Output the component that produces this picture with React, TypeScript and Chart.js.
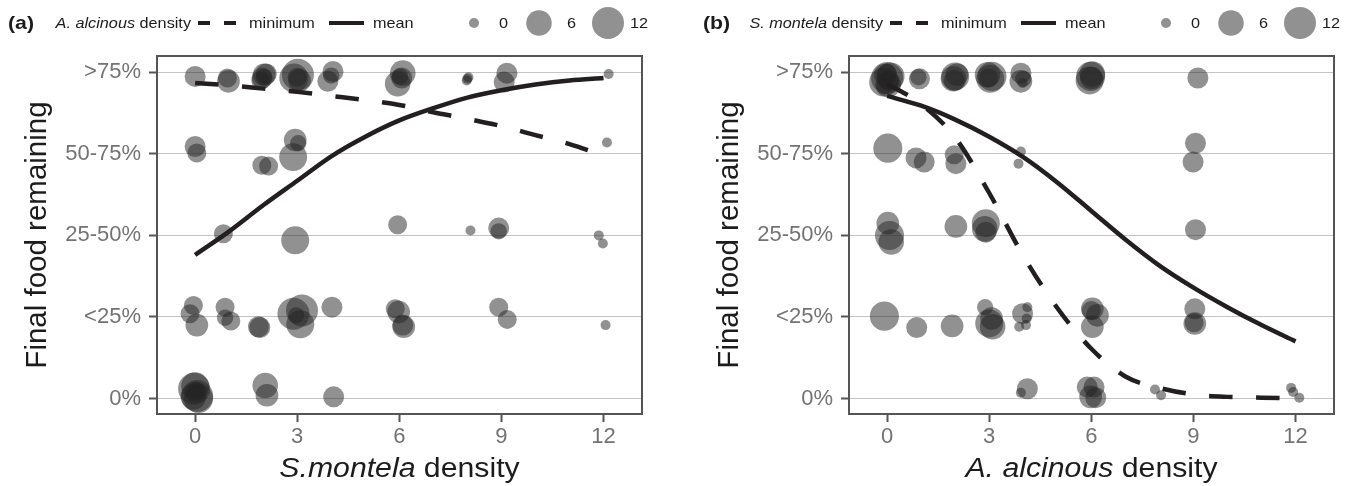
import React, { useEffect, useRef } from 'react';
import { Chart, registerables } from 'chart.js';

Chart.register(...registerables);

// ---------- data ----------
const densityTicks = [0, 3, 6, 9, 12];
const foodLabels = ['0%', '<25%', '25-50%', '50-75%', '>75%'];
const legendSizes = [0, 6, 12];

const curveX = [0, 1, 2, 3, 4, 5, 6, 7, 8, 9, 10, 11, 12];
const aMeanY = [1.76, 2.05, 2.37, 2.67, 2.97, 3.21, 3.41, 3.56, 3.69, 3.78, 3.85, 3.9, 3.93];
const aMinY = [3.87, 3.84, 3.8, 3.76, 3.71, 3.66, 3.6, 3.51, 3.43, 3.34, 3.23, 3.12, 2.98];
const bMeanY = [3.71, 3.59, 3.42, 3.21, 2.96, 2.65, 2.3, 1.95, 1.63, 1.36, 1.12, 0.9, 0.7];
const bMinY = [3.86, 3.61, 3.2, 2.52, 1.75, 1.11, 0.61, 0.27, 0.13, 0.05, 0.02, 0.01, 0.0];

const aPointX = [
  0.0, 0.98, 0.95, 2.03, 1.97, 2.09, 1.93, 2.02, 3.02, 2.9, 3.07, 3.0, 4.05, 3.9, 4.0, 6.1, 5.95, 6.07, 6.02, 7.98, 8.03, 8.0, 9.16, 9.08, 12.15,
  0.0, 0.05, 1.96, 2.16, 2.94, 3.03, 2.88, 12.1,
  0.83, 2.94, 5.95, 8.09, 8.92, 8.92, 11.86, 11.98,
  -0.05, -0.15, 0.05, 0.88, 0.88, 1.05, 1.86, 1.9, 2.89, 3.14, 3.09, 2.97, 4.02, 5.88, 5.98, 6.13, 6.1, 8.92, 9.17, 12.06,
  -0.03, 0.06, 0.0, 0.1, -0.05, 0.02, 0.04, 2.06, 2.11, 4.07,
];
const aPointY = [
  3.95, 3.89, 3.93, 3.97, 3.93, 3.98, 3.9, 3.94, 3.97, 3.93, 3.9, 3.94, 4.01, 3.89, 3.96, 3.99, 3.86, 3.93, 3.95, 3.9, 3.94, 3.92, 3.99, 3.88, 3.98,
  3.09, 3.01, 2.86, 2.85, 3.17, 3.13, 2.96, 3.14,
  2.02, 1.94, 2.13, 2.06, 2.09, 2.05, 2.0, 1.9,
  1.14, 1.04, 0.9, 1.12, 0.99, 0.95, 0.88, 0.87, 1.04, 1.08, 0.91, 1.02, 1.12, 1.1, 1.06, 0.88, 0.9, 1.12, 0.97, 0.9,
  0.12, 0.03, 0.15, 0.0, 0.02, 0.08, 0.1, 0.16, 0.04, 0.02,
];
const aPointSize = [
  3, 4, 2, 4, 3, 3, 2, 1, 12, 9, 4, 2, 3, 3, 1, 6, 6, 3, 1, 0, 0, 0, 3, 3, 0,
  3, 2, 2, 2, 4, 1, 8, 0,
  2, 8, 2, 0, 3, 1, 0, 0,
  2, 2, 4, 2, 1, 2, 3, 3, 12, 12, 8, 1, 3, 2, 4, 4, 3, 2, 2, 0,
  12, 12, 8, 9, 6, 3, 1, 6, 4, 3,
];

const bPointX = [
  0.0, -0.1, 0.1, 0.03, -0.05, 0.05, 0.0, -0.08, 0.95, 0.92, 2.0, 1.95, 2.05, 1.97, 3.08, 2.95, 3.03, 2.98, 3.93, 3.93, 4.0, 3.98, 5.98, 5.95, 6.03, 6.0, 9.13,
  0.02, 0.85, 1.09, 1.97, 2.02, 3.93, 3.86, 9.06, 8.99,
  0.02, 0.07, 0.12, 2.02, 2.9, 2.9, 2.87, 9.06,
  -0.08, 0.87, 1.91, 2.88, 3.0, 3.1, 3.07, 3.98, 4.12, 4.1, 4.08, 3.88, 6.03, 6.18, 6.03, 6.0, 9.04, 9.04, 9.02,
  4.12, 3.93, 5.88, 6.08, 5.98, 6.13, 7.87, 8.05, 11.87, 11.93, 12.11,
];
const bPointY = [
  3.93, 3.88, 3.95, 3.85, 3.97, 3.9, 3.99, 3.83, 3.92, 3.94, 3.95, 3.92, 3.97, 3.9, 3.95, 3.97, 3.92, 3.93, 3.99, 3.89, 3.92, 3.87, 3.95, 3.9, 3.98, 3.93, 3.93,
  3.07, 2.95, 2.9, 2.99, 2.88, 3.03, 2.88, 3.13, 2.9,
  2.15, 2.0, 1.92, 2.11, 2.15, 2.04, 2.08, 2.07,
  1.01, 0.87, 0.89, 1.12, 0.92, 0.88, 0.98, 1.04, 1.12, 0.98, 0.9, 0.88, 1.1, 1.02, 0.88, 1.08, 1.1, 0.92, 0.93,
  0.12, 0.07, 0.14, 0.14, 0.02, 0.01, 0.11, 0.04, 0.13, 0.08, 0.01,
];
const bPointSize = [
  12, 9, 8, 6, 4, 3, 2, 1, 3, 1, 8, 6, 4, 3, 9, 6, 8, 2, 3, 4, 1, 0, 9, 8, 6, 4, 3,
  9, 3, 3, 2, 3, 0, 0, 3, 3,
  4, 9, 6, 4, 8, 3, 6, 3,
  9, 3, 4, 1, 8, 6, 4, 3, 0, 0, 0, 0, 4, 4, 4, 2, 3, 4, 2,
  3, 0, 3, 3, 4, 3, 0, 0, 0, 0, 0,
];

// ---------- style ----------
const FONT = '"Liberation Sans", Arial, Helvetica, sans-serif';
const SX = 1.12;
const INK = '#1c1c1c';
const FRAME = '#555555';
const GRID = '#c4c4c4';
const TICK_TEXT = '#737373';
const POINT_FILL = 'rgba(35,35,35,0.5)';
const LINE = '#231f20';

const sizeToRadius = (s: number) => 5 + 11 * Math.sqrt(s / 12);

type Part = { text: string; font: string };

function drawParts(ctx: CanvasRenderingContext2D, parts: Part[], x: number, y: number, align: 'left' | 'right' | 'center') {
  const widths = parts.map((p) => {
    ctx.font = p.font;
    return ctx.measureText(p.text).width;
  });
  const total = widths.reduce((a, b) => a + b, 0) * SX;
  const start = align === 'left' ? x : align === 'right' ? x - total : x - total / 2;
  ctx.save();
  ctx.translate(start, y);
  ctx.scale(SX, 1);
  ctx.textAlign = 'left';
  let cx = 0;
  parts.forEach((p, i) => {
    ctx.font = p.font;
    ctx.fillText(p.text, cx, 0);
    cx += widths[i];
  });
  ctx.restore();
}

type PanelProps = {
  left: number;
  width: number;
  tag: string;
  tagX: number;
  legendSpecies: string;
  xSpecies: string;
  px: number[];
  py: number[];
  ps: number[];
  meanY: number[];
  minY: number[];
};

function Panel(props: PanelProps) {
  const ref = useRef<HTMLCanvasElement>(null);

  useEffect(() => {
    const canvas = ref.current;
    if (!canvas) return;

    const deco = {
      id: 'deco',
      afterDraw(chart: any) {
        const ctx: CanvasRenderingContext2D = chart.ctx;
        const a = chart.chartArea;
        ctx.save();
        // panel frame
        ctx.strokeStyle = FRAME;
        ctx.lineWidth = 2;
        ctx.strokeRect(a.left, a.top, a.right - a.left, a.bottom - a.top);

        // y title
        ctx.fillStyle = INK;
        ctx.save();
        ctx.translate(46, (a.top + a.bottom) / 2);
        ctx.rotate(-Math.PI / 2);
        ctx.font = `29.5px ${FONT}`;
        ctx.textAlign = 'center';
        ctx.textBaseline = 'alphabetic';
        ctx.fillText('Final food remaining', 0, 0);
        ctx.restore();

        // x title
        ctx.textBaseline = 'alphabetic';
        drawParts(
          ctx,
          [
            { text: props.xSpecies, font: `italic 27px ${FONT}` },
            { text: ' density', font: `27px ${FONT}` },
          ],
          (a.left + a.right) / 2,
          477,
          'center'
        );

        // legend row
        const ly = 23;
        ctx.textBaseline = 'middle';
        drawParts(ctx, [{ text: props.tag, font: `bold 19px ${FONT}` }], props.tagX, ly + 1, 'left');
        drawParts(
          ctx,
          [
            { text: props.legendSpecies, font: `italic 14.5px ${FONT}` },
            { text: ' density', font: `14.5px ${FONT}` },
          ],
          191,
          ly + 1,
          'right'
        );
        ctx.strokeStyle = LINE;
        ctx.lineWidth = 4;
        ctx.lineCap = 'butt';
        ctx.setLineDash([12, 14]);
        ctx.beginPath();
        ctx.moveTo(198, ly);
        ctx.lineTo(237, ly);
        ctx.stroke();
        ctx.setLineDash([]);
        drawParts(ctx, [{ text: 'minimum', font: `14.5px ${FONT}` }], 249, ly + 1, 'left');
        ctx.beginPath();
        ctx.moveTo(329, ly);
        ctx.lineTo(364, ly);
        ctx.stroke();
        drawParts(ctx, [{ text: 'mean', font: `14.5px ${FONT}` }], 373, ly + 1, 'left');

        const circleX = [474, 539, 608];
        const labelX = [499, 567, 630];
        legendSizes.forEach((s, i) => {
          ctx.fillStyle = POINT_FILL;
          ctx.beginPath();
          ctx.arc(circleX[i], ly, sizeToRadius(s), 0, Math.PI * 2);
          ctx.fill();
          ctx.fillStyle = INK;
          drawParts(ctx, [{ text: String(s), font: `14.5px ${FONT}` }], labelX[i], ly + 1, 'left');
        });
        ctx.restore();
      },
    };

    const chart = new Chart(canvas, {
      type: 'bubble',
      data: {
        datasets: [
          {
            type: 'line',
            data: curveX.map((x, i) => ({ x, y: props.meanY[i] })),
            borderColor: LINE,
            borderWidth: 4.5,
            pointRadius: 0,
            cubicInterpolationMode: 'monotone',
            fill: false,
            order: 0,
          } as any,
          {
            type: 'line',
            data: curveX.map((x, i) => ({ x, y: props.minY[i] })),
            borderColor: LINE,
            borderWidth: 4.5,
            borderDash: [23.5, 23.5],
            borderCapStyle: 'butt',
            pointRadius: 0,
            cubicInterpolationMode: 'monotone',
            fill: false,
            order: 0,
          } as any,
          {
            type: 'bubble',
            data: props.px.map((x, i) => ({ x, y: props.py[i], r: sizeToRadius(props.ps[i]) })),
            backgroundColor: POINT_FILL,
            borderWidth: 0,
            hoverRadius: 0,
            order: 1,
          } as any,
        ],
      },
      options: {
        animation: false,
        responsive: false,
        devicePixelRatio: 1,
        events: [],
        layout: { padding: { left: 0, top: 56, right: props.width - 642, bottom: 0 } },
        plugins: { legend: { display: false }, tooltip: { enabled: false }, title: { display: false } },
        scales: {
          x: {
            type: 'linear',
            min: -1.12,
            max: 13.13,
            afterBuildTicks: (s: any) => {
              s.ticks = densityTicks.map((v) => ({ value: v }));
            },
            afterFit: (s: any) => {
              s.height = 72;
            },
            grid: {
              drawOnChartArea: false,
              drawTicks: true,
              tickLength: 8,
              tickColor: FRAME,
              tickWidth: 2,
              color: GRID,
            },
            border: { display: false },
            ticks: {
              color: TICK_TEXT,
              font: { family: FONT, size: 22 },
              padding: 2,
              maxRotation: 0,
              autoSkip: false,
              callback: (v: any) => String(v),
            },
          },
          y: {
            type: 'linear',
            min: -0.19,
            max: 4.2,
            afterBuildTicks: (s: any) => {
              s.ticks = foodLabels.map((_, i) => ({ value: i }));
            },
            afterFit: (s: any) => {
              s.width = 157;
            },
            grid: {
              color: GRID,
              lineWidth: 1,
              drawTicks: true,
              tickLength: 8,
              tickColor: FRAME,
              tickWidth: 2,
            },
            border: { display: false },
            ticks: {
              color: TICK_TEXT,
              font: { family: FONT, size: 22 },
              padding: 8,
              autoSkip: false,
              callback: (v: any) => foodLabels[Math.round(Number(v))],
            },
          },
        },
      } as any,
      plugins: [deco],
    });

    return () => chart.destroy();
  }, []);

  return (
    <canvas
      ref={ref}
      width={props.width}
      height={486}
      style={{ position: 'absolute', left: props.left, top: 0, width: props.width, height: 486 }}
    />
  );
}

export default function App() {
  return (
    <div style={{ position: 'absolute', left: 0, top: 0, width: 1352, height: 486, background: '#ffffff', overflow: 'hidden' }}>
      <Panel
        left={0}
        width={676}
        tag="(a)"
        tagX={8}
        legendSpecies="A. alcinous"
        xSpecies="S.montela"
        px={aPointX}
        py={aPointY}
        ps={aPointSize}
        meanY={aMeanY}
        minY={aMinY}
      />
      <Panel
        left={692}
        width={660}
        tag="(b)"
        tagX={11}
        legendSpecies="S. montela"
        xSpecies="A. alcinous"
        px={bPointX}
        py={bPointY}
        ps={bPointSize}
        meanY={bMeanY}
        minY={bMinY}
      />
    </div>
  );
}
